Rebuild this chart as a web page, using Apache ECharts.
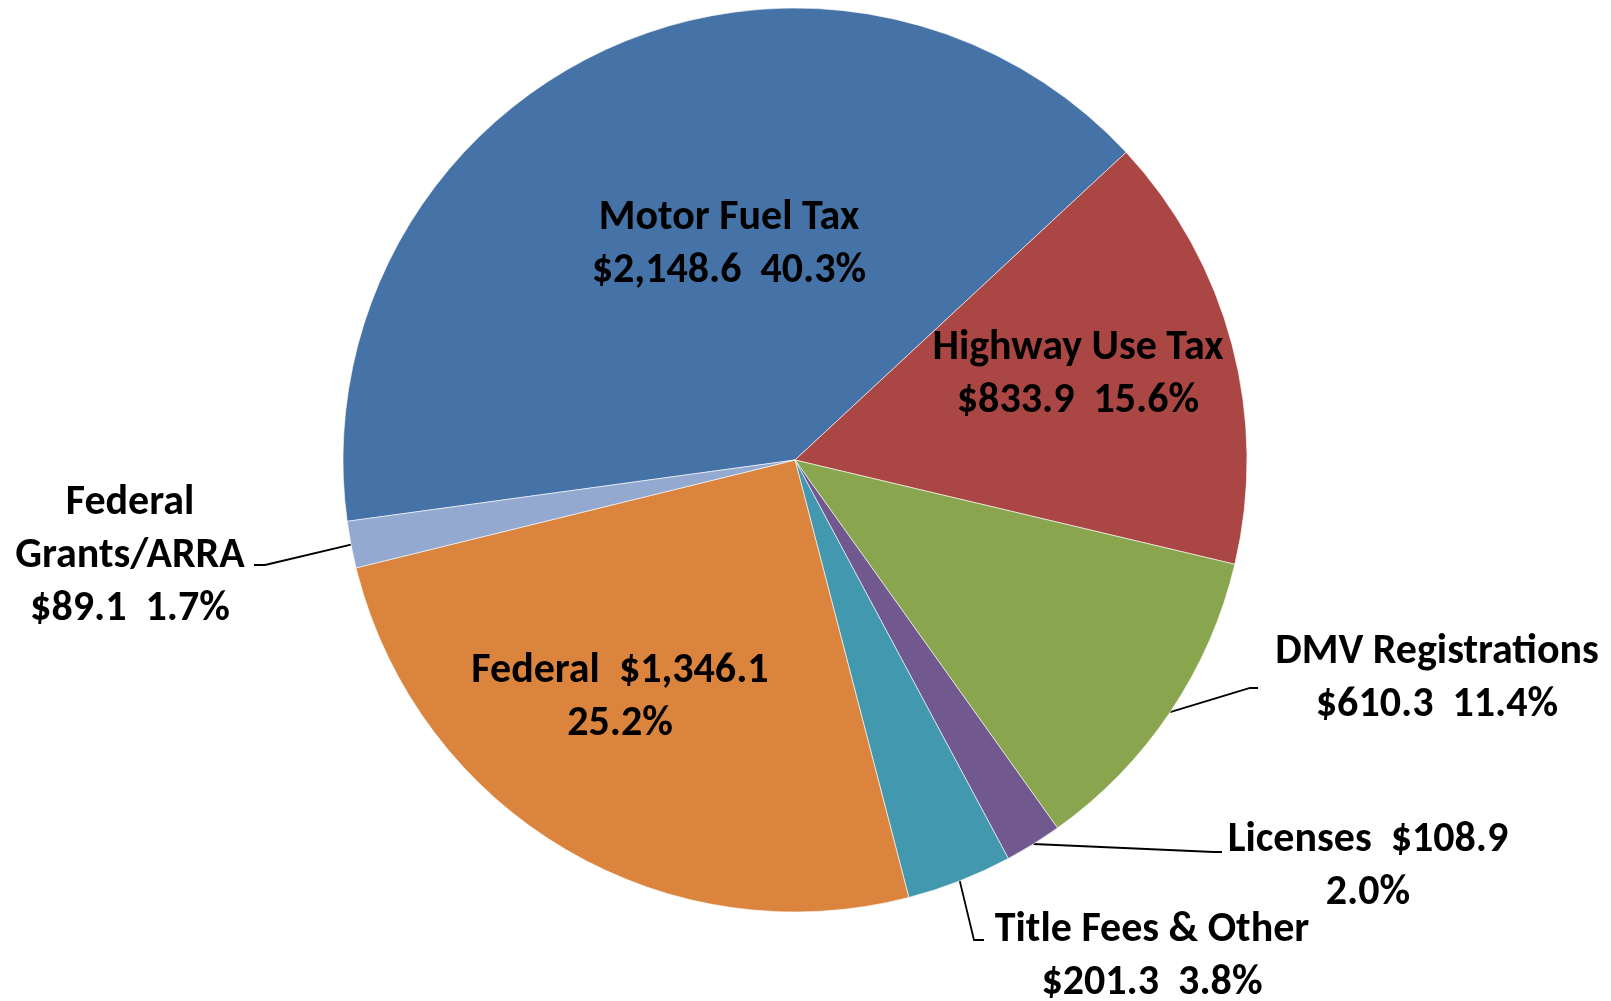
<!DOCTYPE html>
<html lang="en">
  <head>
    <meta charset="UTF-8" />
    <title>Revenue Sources</title>
    <script src="https://cdn.jsdelivr.net/npm/echarts@6/dist/echarts.min.js"></script>
    <style>
      html, body { margin: 0; padding: 0; background: #fff; }
    </style>
  </head>
  <body>
    <div id="chart" style="width: 1611px; height: 1001px"></div>
    <script>
      // revenue sources ($ millions), in drawing order
      const categories = [
        'Motor Fuel Tax',
        'Highway Use Tax',
        'DMV Registrations',
        'Licenses',
        'Title Fees & Other',
        'Federal',
        'Federal\nGrants/ARRA',
      ]
      const amounts = [2148.6, 833.9, 610.3, 108.9, 201.3, 1346.1, 89.1]
      const shares = [40.3, 15.6, 11.4, 2.0, 3.8, 25.2, 1.7]

      const colors = ['#4572A7', '#AA4643', '#89A54E', '#71588F', '#4198AF', '#DB843D', '#93A9CF']
      // true => percent goes on its own line after "name  $amount"
      const pctOnOwnLine = [false, false, false, true, false, true, false]

      // label centres and leader line bends
      const labelPos = [
        [729, 245], [1078, 375], [1437, 679], [1368, 867],
        [1152, 957], [620, 698], [130, 556],
      ]
      const leaderBends = {
        2: [[1250, 688], [1258, 688]],
        3: [[1214, 852], [1222, 852]],
        4: [[974, 940], [984, 940]],
        6: [[265, 565], [254, 565]],
      }

      const money = v => '$' + v.toLocaleString('en-US', { minimumFractionDigits: 1, maximumFractionDigits: 1 })

      const chart = echarts.init(document.getElementById('chart'))

      const option = {
        animation: false,
        series: [
          {
            type: 'pie',
            center: [795, 460],
            radius: 452,
            startAngle: 187.8,
            clockwise: true,
            avoidLabelOverlap: false,
            itemStyle: { borderColor: '#ffffff', borderWidth: 0.6 },
            label: {
              show: true,
              color: '#000',
              fontFamily: 'Carlito, Lato, sans-serif',
              fontWeight: 'bold',
              fontSize: 42,
              lineHeight: 53,
              align: 'center',
              formatter: p => {
                const i = p.dataIndex
                const amt = money(amounts[i])
                const pct = shares[i].toFixed(1) + '%'
                return pctOnOwnLine[i]
                  ? p.name + '  ' + amt + '\n' + pct
                  : p.name + '\n' + amt + '  ' + pct
              },
            },
            labelLine: {
              show: true,
              length: 20,
              length2: 10,
              lineStyle: { color: '#000', width: 1.8 },
            },
            labelLayout: params => {
              const i = params.dataIndex
              const out = {
                x: labelPos[i][0],
                y: labelPos[i][1],
                align: 'center',
                verticalAlign: 'middle',
              }
              if (leaderBends[i] && params.labelLinePoints) {
                out.labelLinePoints = [params.labelLinePoints[0]].concat(leaderBends[i])
              }
              return out
            },
            data: categories.map((name, i) => ({
              name: name,
              value: amounts[i],
              itemStyle: { color: colors[i] },
              label: { position: leaderBends[i] ? 'outside' : 'inside' },
              labelLine: { show: !!leaderBends[i] },
            })),
          },
        ],
      }

      chart.setOption(option)
    </script>
  </body>
</html>
